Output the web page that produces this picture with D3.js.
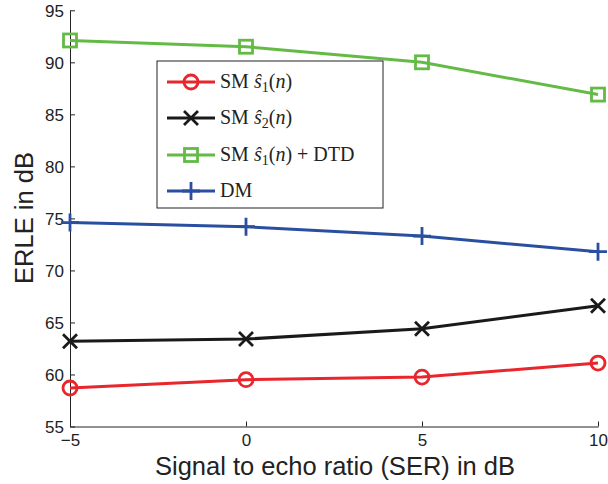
<!DOCTYPE html>
<html><head><meta charset="utf-8">
<script src="https://cdn.jsdelivr.net/npm/d3@7"></script>
<style>body{margin:0;background:#fff}svg{display:block}</style>
</head><body><svg id="c" width="608" height="484"></svg>
<script>
const xValues = [-5, 0, 5, 10];
const smS1 = [58.7, 59.5, 59.75, 61.1];
const smS2 = [63.2, 63.4, 64.4, 66.6];
const smS1DTD = [92.1, 91.5, 90.0, 86.9];
const dm = [74.6, 74.2, 73.3, 71.8];
const xTicks = [-5, 0, 5, 10];
const yTicks = [55, 60, 65, 70, 75, 80, 85, 90, 95];

const series = [
  {name: "s1", values: smS1, color: "#e8262b", marker: "circle"},
  {name: "s2", values: smS2, color: "#1a1a1a", marker: "x"},
  {name: "dtd", values: smS1DTD, color: "#63bb45", marker: "square"},
  {name: "dm", values: dm, color: "#2a4fa0", marker: "plus"}
];

const svg = d3.select("#c");
const x = d3.scaleLinear().domain([-5, 10]).range([70, 598]);
const y = d3.scaleLinear().domain([55, 95]).range([426.5, 10.3]);
const sans = "'Liberation Sans', Arial, Helvetica, sans-serif";

// axes
const xAxis = d3.axisBottom(x).tickValues(xTicks).tickSizeInner(-5).tickSizeOuter(0)
  .tickPadding(7).tickFormat(d => d < 0 ? "\u2212" + Math.abs(d) : d);
const gx = svg.append("g").attr("transform", `translate(0,${y(55)})`).call(xAxis);
const yAxis = d3.axisLeft(y).tickValues(yTicks).tickSizeInner(-5).tickSizeOuter(0).tickPadding(6);
const gy = svg.append("g").attr("transform", `translate(${x(-5)},0)`).call(yAxis);
[gx, gy].forEach(g => {
  g.select(".domain").attr("stroke", "#222").attr("stroke-width", 1);
  g.selectAll(".tick line").attr("stroke", "#222");
  g.selectAll("text").attr("font-family", sans).attr("font-size", 17).attr("fill", "#222");
});
gy.selectAll("text").attr("dy", "0.35em");

svg.append("text").attr("x", 335).attr("y", 475).attr("text-anchor", "middle")
  .attr("font-family", sans).attr("font-size", 25.5).attr("fill", "#222")
  .text("Signal to echo ratio (SER) in dB");
svg.append("text").attr("transform", "translate(33,218) rotate(-90)").attr("text-anchor", "middle")
  .attr("font-family", sans).attr("font-size", 25.5).attr("fill", "#222")
  .text("ERLE in dB");

function drawMarker(g, type, cx, cy, color) {
  if (type === "circle") {
    g.append("circle").attr("cx", cx).attr("cy", cy).attr("r", 7)
      .attr("fill", "none").attr("stroke", color).attr("stroke-width", 2.8);
  } else if (type === "x") {
    const s = 7;
    g.append("path").attr("d", `M${cx-s},${cy-s}L${cx+s},${cy+s}M${cx-s},${cy+s}L${cx+s},${cy-s}`)
      .attr("stroke", color).attr("stroke-width", 2.8).attr("fill", "none");
  } else if (type === "square") {
    g.append("rect").attr("x", cx-6.5).attr("y", cy-6.5).attr("width", 13).attr("height", 13)
      .attr("fill", "none").attr("stroke", color).attr("stroke-width", 2.8);
  } else if (type === "plus") {
    const s = 9;
    g.append("path").attr("d", `M${cx-s},${cy}L${cx+s},${cy}M${cx},${cy-s}L${cx},${cy+s}`)
      .attr("stroke", color).attr("stroke-width", 2.8).attr("fill", "none");
  }
}

const line = d3.line().x((d, i) => x(xValues[i])).y(d => y(d));
series.forEach(s => {
  const g = svg.append("g");
  g.append("path").attr("d", line(s.values)).attr("fill", "none")
    .attr("stroke", s.color).attr("stroke-width", 3);
  s.values.forEach((v, i) => drawMarker(g, s.marker, x(xValues[i]), y(v), s.color));
});

// legend
const lg = svg.append("g");
lg.append("rect").attr("x", 157).attr("y", 61).attr("width", 226).attr("height", 147)
  .attr("fill", "#fff").attr("stroke", "#222").attr("stroke-width", 1);
const serif = "'Liberation Serif', 'Times New Roman', serif";
const rows = [82, 118, 155, 191];
series.forEach((s, i) => {
  const ry = rows[i];
  lg.append("line").attr("x1", 167).attr("x2", 215).attr("y1", ry).attr("y2", ry)
    .attr("stroke", s.color).attr("stroke-width", 3);
  drawMarker(lg, s.marker, 191, ry, s.color);
  const t = lg.append("text").attr("x", 220).attr("y", ry + 6)
    .attr("font-family", serif).attr("font-size", 20).attr("fill", "#222")
    .attr("xml:space", "preserve").style("white-space", "pre");
  if (s.name === "dm") { t.text("DM"); return; }
  t.append("tspan").text("SM ");
  t.append("tspan").attr("font-style", "italic").text("\u015D");
  t.append("tspan").attr("font-size", 14).attr("dy", 4).text(s.name === "s2" ? "2" : "1");
  t.append("tspan").attr("dy", -4).text("(");
  t.append("tspan").attr("font-style", "italic").text("n");
  t.append("tspan").text(")");
  if (s.name === "dtd") t.append("tspan").text(" + DTD");
});
</script></body></html>
